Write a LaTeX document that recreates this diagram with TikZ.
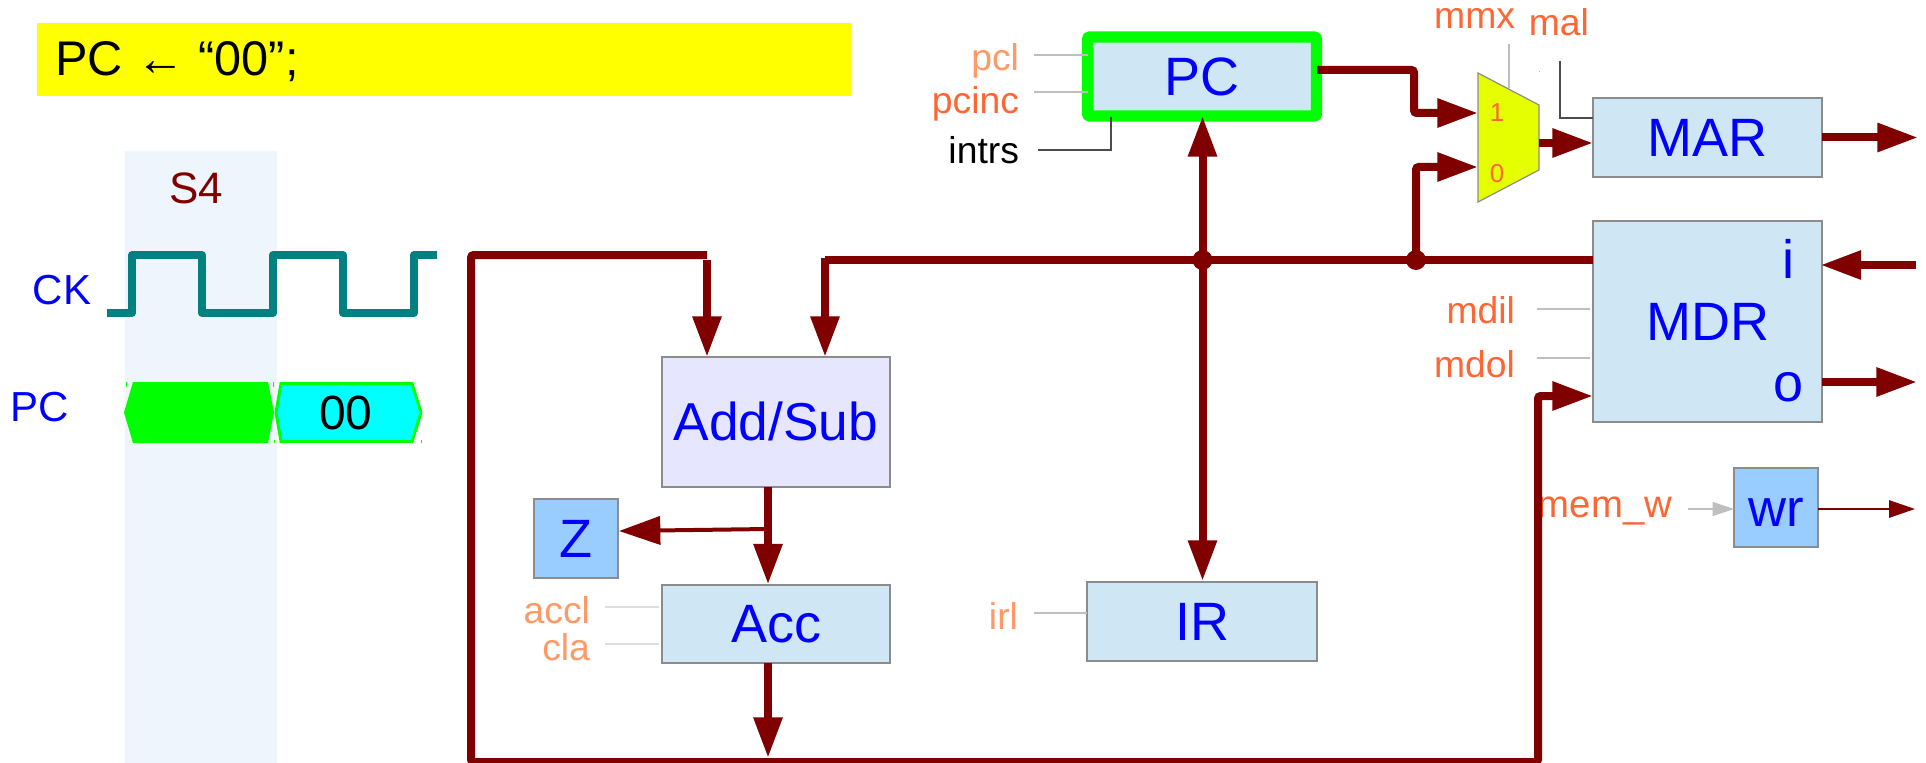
\documentclass[tikz,border=0pt]{standalone}
\usepackage{fontspec}
\setmainfont{Liberation Sans}
\usetikzlibrary{arrows.meta}
\definecolor{busred}{HTML}{800000}
\definecolor{boxblue}{HTML}{CFE6F4}
\definecolor{lilac}{HTML}{E6E6FF}
\definecolor{skyb}{HTML}{99CCFF}
\definecolor{band}{HTML}{EEF5FC}
\definecolor{org}{HTML}{FF6633}
\definecolor{lorg}{HTML}{FF9966}
\definecolor{wave}{HTML}{008080}
\definecolor{muxy}{HTML}{E6FF00}
\definecolor{edge}{HTML}{8C8C8C}
\definecolor{hiyel}{HTML}{FFFF00}
\definecolor{higrn}{HTML}{00FF00}
\definecolor{hicyan}{HTML}{00FFFF}
\definecolor{hiblue}{HTML}{0000FF}
\tikzset{
  x=0.75pt,y=-0.75pt,
  wh/.style 2 args={minimum width=#1*0.75pt,minimum height=#2*0.75pt},
  block/.style={draw=edge,line width=1pt,inner sep=0pt,outer sep=0pt,text=hiblue,
    font=\fontsize{40.5}{48}\selectfont,text height=28pt,text depth=0pt,align=center},
  regb/.style={block,fill=boxblue},
  flag/.style={block,fill=skyb},
  lab/.style={inner sep=0pt,outer sep=0pt,anchor=base east,font=\fontsize{28}{34}\selectfont},
  bigl/.style={inner sep=0pt,outer sep=0pt,anchor=base,text=hiblue,font=\fontsize{40.5}{48}\selectfont},
  sigl/.style={inner sep=0pt,outer sep=0pt,anchor=base,text=hiblue,font=\fontsize{31.5}{38}\selectfont},
  bus/.style={draw=busred,line width=6pt},
  tip/.style={-{Triangle[length=30.5pt,width=20.5pt]}},
  ctl/.style={draw=black!25,line width=0.9pt},
  ctlw/.style={draw=black!13,line width=1.1pt},
  dot/.style={circle,fill=busred,inner sep=0pt,minimum size=15pt},
}
\begin{document}
\begin{tikzpicture}
\useasboundingbox (0,0) rectangle (1926,763);
\clip (0,0) rectangle (1926,763);
% highlighted statement
\fill[hiyel] (37,23) rectangle (851,96);
\node[inner sep=0pt,anchor=base west,font=\fontsize{36.5}{43}\selectfont] (stmt) at (55,76) {PC ← “00”;};
% S4 band
\fill[band] (125,151) rectangle (277,763);
\node[inner sep=0pt,anchor=base,text=busred,font=\fontsize{33}{40}\selectfont] (s4) at (196,204) {S4};
% clock
\node[sigl] (cklab) at (62,304) {CK};
\draw[wave,line width=6pt,line join=round]
  (107,313) -- (132,313) -- (132,255) -- (202,255) -- (202,313) -- (273,313) -- (273,255)
  -- (343,255) -- (343,313) -- (414,313) -- (414,255) -- (437,255);
% PC waveform
\node[sigl] (pclab) at (40,421) {PC};
\fill[higrn] (124,412.5) -- (133,382) -- (268,382) -- (274,412.5) -- (268,443) -- (133,443) -- cycle;
\draw[higrn,fill=hicyan,line width=2.2pt] (276,412.5) -- (281,383.5) -- (412,383.5) -- (421,412.5) -- (412,441.5) -- (281,441.5) -- cycle;
\node[inner sep=0pt,anchor=base,font=\fontsize{36}{43}\selectfont] (pcval) at (346,429) {00};
\fill[higrn] (125.5,382) rectangle +(1,5);
\fill[higrn] (272.5,382) rectangle +(1,5);
\fill[higrn] (273.5,440) rectangle +(1,3);
\fill[higrn] (420.5,440) rectangle +(1,3);
% blocks
\node[regb,wh={229}{79},draw=higrn,line width=8.5pt,line join=round,rounded corners=1pt] (pc) at (1202,76.5) {PC};
\node[regb,wh={229}{79}] (mar) at (1707.5,137.5) {MAR};
\node[regb,wh={229}{201}] (mdr) at (1707.5,321.5) {MDR};
\node[bigl] (mdri) at (1788,278) {i};
\node[bigl] (mdro) at (1788,401) {o};
\node[block,fill=lilac,wh={228}{130},font=\fontsize{40}{48}\selectfont] (alu) at (776,422) {Add/Sub};
\node[flag,wh={84}{79}] (z) at (576,538.5) {Z};
\node[regb,wh={228}{78}] (acc) at (776,624) {Acc};
\node[regb,wh={230}{79}] (ir) at (1202,621.5) {IR};
\node[flag,wh={84}{79},font=\fontsize{39.5}{47}\selectfont] (wr) at (1776,507.5) {wr};
% mux
\draw[fill=muxy,draw=edge,line width=0.9pt] (1478,73) coordinate (muxtl) -- (1539,105) -- (1539,170) -- (1478,202) -- cycle;
\node[inner sep=0pt,anchor=center,text=org,font=\fontsize{19.5}{23}\selectfont] (mux1l) at (1497,113) {1};
\node[inner sep=0pt,anchor=center,text=org,font=\fontsize{19.5}{23}\selectfont] (mux0l) at (1497,174) {0};
% control labels
\node[lab,text=lorg] (pcl) at (1019,71) {pcl};
\node[lab,text=org] (pcinc) at (1019,114) {pcinc};
\node[lab,text=black] (intrs) at (1019,163) {intrs};
\node[lab,text=org] (mmx) at (1515,29) {mmx};
\node[lab,text=org] (mal) at (1589,36) {mal};
\node[lab,text=org] (mdil) at (1515,323) {mdil};
\node[lab,text=org] (mdol) at (1515,377) {mdol};
\node[lab,text=org,font=\fontsize{28.75}{34}\selectfont] (memw) at (1672,517) {mem\_w};
\node[lab,text=lorg] (accl) at (590,623) {accl};
\node[lab,text=lorg] (cla) at (590,660) {cla};
\node[lab,text=lorg] (irl) at (1018,629) {irl};
% control lines
\coordinate (pcla) at (1034,55); \coordinate (pclb) at (1088,55);
\coordinate (pcia) at (1034,92); \coordinate (pcib) at (1088,92);
\draw[ctl] (pcla) -- (pclb);
\draw[ctl] (pcia) -- (pcib);
\coordinate (ina) at (1038,150); \coordinate (inb) at (1111,117);
\draw[draw=black!70,line width=0.8pt] (ina) -| (inb);
\coordinate (mma) at (1509,44); \coordinate (mmb) at (1509,88);
\draw[ctl] (mma) -- (mmb);
\coordinate (maa) at (1560,61); \coordinate (mab) at (1593,118);
\draw[draw=black!70,line width=0.8pt] (maa) |- (mab);
\coordinate (dia) at (1537,309); \coordinate (dib) at (1590,309);
\coordinate (doa) at (1537,358); \coordinate (dob) at (1590,358);
\draw[ctl] (dia) -- (dib);
\draw[ctl] (doa) -- (dob);
\coordinate (aca) at (605,607); \coordinate (acb) at (659,607);
\coordinate (cla1) at (605,644); \coordinate (cla2) at (659,644);
\draw[ctlw] (aca) -- (acb);
\draw[ctlw] (cla1) -- (cla2);
\coordinate (ira) at (1034,613);
\draw[ctl] (ira) -- (ira -| ir.west);
\fill[black!30] (1538.5,71.5) rectangle +(1,1);
% junctions
\node[dot] (j1) at (1202.5,260) {};
\node[dot] (j2) at (1416,260) {};
% data buses
\coordinate (busend) at (825,260);
\coordinate (alub) at (825,357);
\coordinate (alub0) at (825,258);
\draw[bus] (mdr.west |- j1.center) -- (busend);
\draw[bus,tip] (alub0) -- (alub);
\coordinate (pcin) at (1202.5,116);
\coordinate (irin) at (1202.5,581);
\draw[bus,tip] (j1.center) -- (pcin);
\draw[bus,tip] (j1.center) -- (irin);
% PC to mux
\coordinate (pcout) at (1317,70);
\coordinate (m1b) at (1414,113);
\coordinate (m1) at (1478,113);
\draw[bus,tip,rounded corners=2pt] (pcout) -| (m1b) -- (m1);
\coordinate (m0b) at (1416,167);
\coordinate (m0) at (1478,167);
\draw[bus,tip,rounded corners=2pt] (j2.center) -- (m0b) -- (m0);
\coordinate (mo) at (1539,143);
\coordinate (moe) at (1593,143);
\draw[bus,tip] (mo) -- (moe);
% external
\coordinate (marx) at (1918,137.5);
\draw[bus,tip] (mar.east) -- (marx);
\coordinate (mdrix) at (1916,265);
\coordinate (mdrie) at (1820.5,265);
\draw[bus,tip] (mdrix) -- (mdrie);
\coordinate (mdros) at (1822,382);
\coordinate (mdrox) at (1917,382);
\draw[bus,tip] (mdros) -- (mdrox);
% feedback loop
\coordinate (ftop) at (707,255);
\coordinate (fl) at (471,762);
\coordinate (fr) at (1538,396);
\coordinate (fe) at (1593,396);
\draw[bus,tip,rounded corners=2pt] (ftop) -| (fl) -| (fr) -- (fe);
\coordinate (alua0) at (707,260);
\coordinate (alua) at (707,357);
\draw[bus,tip] (alua0) -- (alua);
% ALU to Acc
\coordinate (alus) at (768,487);
\coordinate (acct) at (768,584.5);
\draw[bus,tip] (alus) -- (acct);
\coordinate (zs) at (768,529);
\coordinate (ze) at (619,531);
\draw[draw=busred,line width=3pt,-{Triangle[length=31pt,width=21pt]}] (zs) -- (ze);
\coordinate (accs) at (768,663);
\coordinate (loopj) at (768,758);
\draw[bus,tip] (accs) -- (loopj);
% write
\coordinate (mwa) at (1688,509);
\coordinate (mwb) at (1734,509);
\draw[draw=black!25,line width=0.9pt,-{Triangle[length=16pt,width=10.5pt]}] (mwa) -- (mwb);
\coordinate (wrs) at (1818,509);
\coordinate (wrx) at (1915,509);
\draw[draw=busred,line width=1.5pt,-{Triangle[length=19.5pt,width=13pt]}] (wrs) -- (wrx);
\end{tikzpicture}
\end{document}
